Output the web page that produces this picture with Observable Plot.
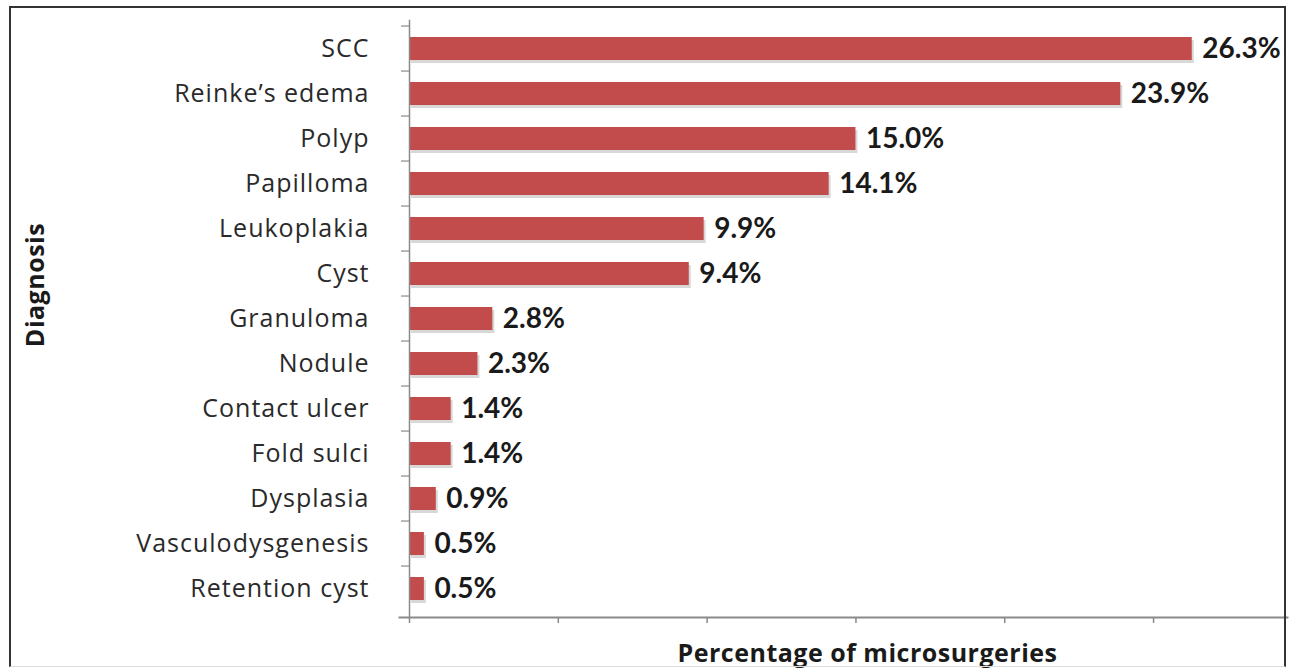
<!DOCTYPE html>
<html>
<head>
<meta charset="utf-8">
<script src="https://cdn.jsdelivr.net/npm/d3@7"></script>
<script src="https://cdn.jsdelivr.net/npm/@observablehq/plot@0.6"></script>
<style>
  html, body { margin: 0; padding: 0; background: #fff; }
  #wrap { position: relative; width: 1293px; height: 672px; overflow: hidden; }
  #frame { position: absolute; left: 9px; top: 6px; width: 1277px; height: 661px;
           border: 2px solid #333; border-bottom: 1px solid #ddd; box-sizing: border-box; pointer-events: none; }
  #chart { position: absolute; left: 0; top: 0; }
  .ylabels text { letter-spacing: 1px; }
  .titles text { letter-spacing: 0.5px; }
</style>
</head>
<body>
<div id="wrap">
  <div id="chart"></div>
  <div id="frame"></div>
</div>
<script>
const categories = ["SCC", "Reinke’s edema", "Polyp", "Papilloma", "Leukoplakia", "Cyst", "Granuloma",
  "Nodule", "Contact ulcer", "Fold sulci", "Dysplasia", "Vasculodysgenesis", "Retention cyst"];
const values = [26.3, 23.9, 15.0, 14.1, 9.9, 9.4, 2.8, 2.3, 1.4, 1.4, 0.9, 0.5, 0.5];
const xTicks = [0, 5, 10, 15, 20, 25];
const xTitle = "Percentage of microsurgeries";
const yTitle = "Diagnosis";

const data = categories.map((c, i) => ({category: c, value: values[i]}));

const W = 1293, H = 672;
const mL = 409, mR = 6, mT = 20, mB = 55;
const step = (H - mT - mB) / categories.length;
const labelFont = "'Open Sans', Lato, sans-serif";

const chart = Plot.plot({
  width: W,
  height: H,
  marginLeft: mL,
  marginRight: mR,
  marginTop: mT,
  marginBottom: mB,
  style: {fontFamily: labelFont, background: "transparent", overflow: "visible"},
  x: {domain: [0, 29.5]},
  y: {domain: categories, paddingInner: 0.5, paddingOuter: 0.25},
  marks: [
    // bar shadow
    Plot.barX(data, {x: "value", y: "category", fill: "#b8b8b8", fillOpacity: 0.55, dx: 2, dy: 3}),
    Plot.barX(data, {x: "value", y: "category", fill: "#c24c4b"}),
    // axis lines
    Plot.frame({anchor: "left", stroke: "#8a8a8a", strokeWidth: 1.5}),
    Plot.frame({anchor: "bottom", stroke: "#8a8a8a", strokeWidth: 2, insetLeft: -10}),
    // y-axis boundary ticks
    Plot.axisY({tickSize: 8, text: null, dy: -step / 2, stroke: "#8a8a8a", strokeWidth: 1.2, label: null}),
    // category labels
    Plot.axisY({tickSize: 0, tickPadding: 40, fontSize: 25, fill: "#2a2a2a", label: null, className: "ylabels"}),
    // x ticks, no labels
    Plot.axisX({ticks: xTicks, tickSize: 6, tickFormat: () => "", stroke: "#8a8a8a", strokeWidth: 1.5, label: null}),
    // value labels
    Plot.text(data, {x: "value", y: "category", text: d => d.value.toFixed(1) + "%", dx: 10,
      textAnchor: "start", fontWeight: "bold", fontSize: 28, fill: "#1a1a1a",
      fontFamily: "Lato, sans-serif"}),
    // axis titles
    Plot.text([xTitle], {frameAnchor: "bottom", textAnchor: "middle", dx: 19, dy: 36, lineAnchor: "middle",
      fontWeight: "bold", fontSize: 25, fill: "#1a1a1a", className: "titles"}),
    Plot.text([yTitle], {frameAnchor: "left", textAnchor: "middle", dx: -374, dy: -34, rotate: -90,
      fontWeight: "bold", fontSize: 25, fill: "#1a1a1a", className: "titles"})
  ]
});
document.getElementById("chart").appendChild(chart);
</script>
</body>
</html>
